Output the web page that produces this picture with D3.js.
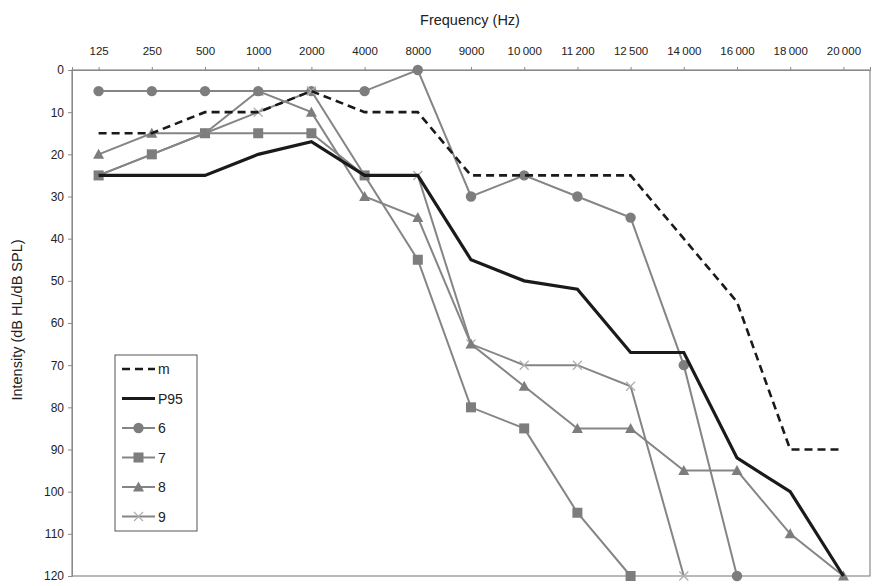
<!DOCTYPE html>
<html><head><meta charset="utf-8">
<script src="https://cdn.jsdelivr.net/npm/d3@7"></script>
<style>body{margin:0;background:#fff}svg{display:block}text{font-family:"Liberation Sans",Arial,sans-serif}</style>
</head><body><svg id="c" width="874" height="586"></svg>
<script>
const categories = ["125","250","500","1000","2000","4000","8000","9000","10\u2009000","11\u2009200","12\u2009500","14\u2009000","16\u2009000","18\u2009000","20\u2009000"];
const yTicks = [0,10,20,30,40,50,60,70,80,90,100,110,120];
const seriesM   = [15,15,10,10,5,10,10,25,25,25,25,40,55,90,90];
const seriesP95 = [25,25,25,20,17,25,25,45,50,52,67,67,92,100,120];
const series6   = [5,5,5,5,5,5,0,30,25,30,35,70,120,null,null];
const series7   = [25,20,15,15,15,25,45,80,85,105,120,null,null,null,null];
const series8   = [20,15,15,5,10,30,35,65,75,85,85,95,95,110,120];
const series9   = [25,20,15,10,5,25,25,65,70,70,75,120,null,null,null];
const seriesNames = ["m","P95","6","7","8","9"];

const svg = d3.select("#c");
const L=72, R=870, T=70, B=576;
const x = d3.scalePoint().domain(categories).range([L,R]).padding(0.5);
const y = d3.scaleLinear().domain([0,120]).range([T,B]);

svg.append("rect").attr("x",L).attr("y",T).attr("width",R-L).attr("height",B-T)
  .attr("fill","none").attr("stroke","#8a8a8a").attr("stroke-width",1.2);

const ya = svg.append("g").attr("transform",`translate(${L},0)`)
  .call(d3.axisLeft(y).tickValues(yTicks).tickSize(4).tickPadding(4));
ya.select(".domain").attr("stroke","#8a8a8a");
ya.selectAll("line").attr("stroke","#8a8a8a");
ya.selectAll("text").attr("font-size",12).attr("fill","#222");

const xa = svg.append("g").attr("transform",`translate(0,${T})`)
  .call(d3.axisTop(x).tickSize(3).tickPadding(12));
xa.select(".domain").attr("stroke","#8a8a8a");
xa.selectAll("line").attr("stroke","#8a8a8a");
xa.selectAll("text").attr("font-size",11.5).attr("fill","#222");

svg.append("text").attr("x",470).attr("y",25).attr("text-anchor","middle")
  .attr("font-size",14.5).attr("fill","#222").text("Frequency (Hz)");
svg.append("text").attr("transform","translate(22,320) rotate(-90)").attr("text-anchor","middle")
  .attr("font-size",14.5).attr("fill","#222").text("Intensity (dB HL/dB SPL)");

const gray="#858585";
const styles = {
  "m":  {data:seriesM, color:"#1a1a1a", width:2.6, dash:"8,5", marker:null},
  "P95":{data:seriesP95, color:"#1a1a1a", width:3.2, dash:null, marker:null},
  "6":  {data:series6, color:gray, width:2, dash:null, marker:"circle"},
  "7":  {data:series7, color:gray, width:2, dash:null, marker:"square"},
  "8":  {data:series8, color:gray, width:2, dash:null, marker:"triangle"},
  "9":  {data:series9, color:gray, width:2, dash:null, marker:"x"}
};
const line = d3.line().defined(d=>d.v!=null).x(d=>x(d.c)).y(d=>y(d.v));

function marker(g, type, cx, cy){
  if(type==="circle") g.append("circle").attr("cx",cx).attr("cy",cy).attr("r",5.2).attr("fill","#7d7d7d");
  else if(type==="square") g.append("rect").attr("x",cx-5).attr("y",cy-5).attr("width",10).attr("height",10).attr("fill","#7d7d7d");
  else if(type==="triangle") g.append("path").attr("d",`M${cx},${cy-5.5}L${cx+5.5},${cy+4.5}L${cx-5.5},${cy+4.5}Z`).attr("fill","#7d7d7d");
  else if(type==="x") g.append("path").attr("d",`M${cx-4.5},${cy-4.5}L${cx+4.5},${cy+4.5}M${cx-4.5},${cy+4.5}L${cx+4.5},${cy-4.5}`).attr("stroke","#b0b0b0").attr("stroke-width",1.3);
}

const drawOrder = ["6","9","7","8","P95","m"];
drawOrder.forEach(name=>{
  const s = styles[name];
  const pts = categories.map((c,i)=>({c, v:s.data[i]}));
  svg.append("path").datum(pts).attr("d",line).attr("fill","none")
    .attr("stroke",s.color).attr("stroke-width",s.width)
    .attr("stroke-dasharray",s.dash).attr("stroke-linejoin","miter");
  if(s.marker){
    const g = svg.append("g");
    pts.filter(d=>d.v!=null).forEach(d=>marker(g,s.marker,x(d.c),y(d.v)));
  }
});

const lg = svg.append("g");
lg.append("rect").attr("x",115).attr("y",355).attr("width",82).attr("height",176)
  .attr("fill","#fff").attr("stroke","#555").attr("stroke-width",1);
seriesNames.forEach((name,i)=>{
  const s = styles[name];
  const ly = 369 + i*29.5;
  lg.append("line").attr("x1",122).attr("x2",155).attr("y1",ly).attr("y2",ly)
    .attr("stroke",s.color).attr("stroke-width",s.width).attr("stroke-dasharray",s.dash);
  if(s.marker) marker(lg,s.marker,138.5,ly);
  lg.append("text").attr("x",158).attr("y",ly+5).attr("font-size",14).attr("fill","#222").text(name);
});
</script></body></html>
